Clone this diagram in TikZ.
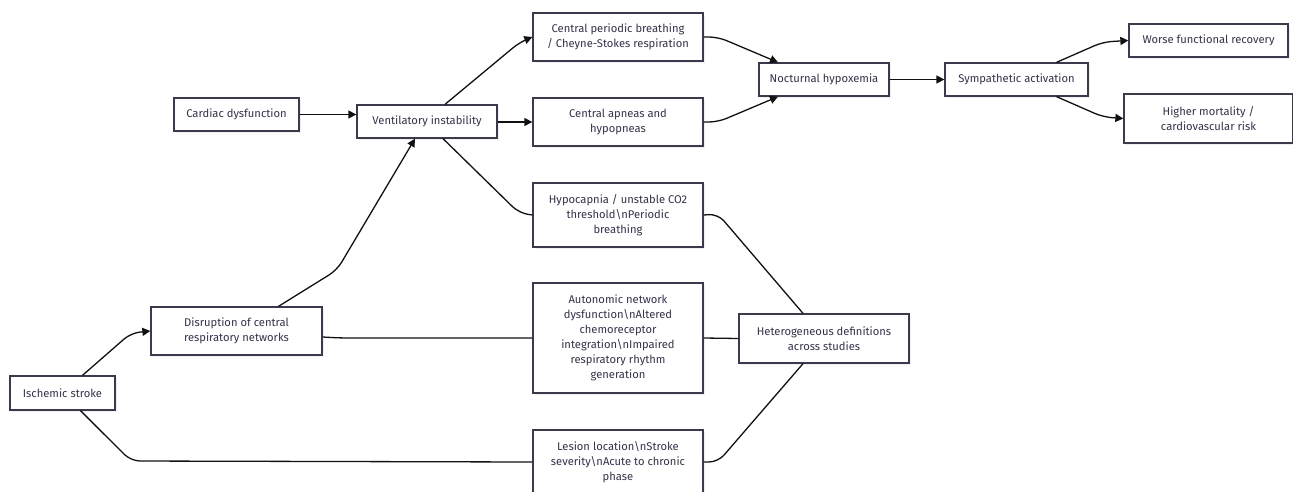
\documentclass[tikz,border=0pt]{standalone}
\usepackage{fontspec}
\setmainfont{Fira Sans}
\usetikzlibrary{arrows.meta,shadows}
\definecolor{boxc}{HTML}{3A3A4C}
\definecolor{txtc}{HTML}{33334A}
\definecolor{linec}{HTML}{111111}
\begin{document}
\begin{tikzpicture}[x=1pt,y=-1pt,
  box/.style={draw=boxc, line width=1.3pt, fill=white, align=center, text=txtc,
    font=\fontsize{11.2}{15}\selectfont, inner sep=0pt,
    drop shadow={shadow xshift=2pt, shadow yshift=-2pt, fill=black!12}},
  link/.style={draw=linec, line width=1.3pt, rounded corners=9pt},
  arr/.style={link, -{Triangle[length=8pt,width=8pt]}}]
\useasboundingbox (0,0) rectangle (1293,492);

\node[box, minimum width=125, minimum height=33] (cd) at (236.5,114.5) {Cardiac dysfunction};
\node[box, minimum width=140, minimum height=33] (vi) at (427,121.5) {Ventilatory instability};
\node[box, minimum width=170, minimum height=48] (cpb) at (618,37) {Central periodic breathing\\/ Cheyne-Stokes respiration};
\node[box, minimum width=170, minimum height=48] (cap) at (618,122) {Central apneas and\\hypopneas};
\node[box, minimum width=170, minimum height=64] (hyp) at (618,215) {Hypocapnia / unstable CO2\\threshold\textbackslash nPeriodic\\breathing};
\node[box, minimum width=170, minimum height=110] (aut) at (618,338) {Autonomic network\\dysfunction\textbackslash nAltered\\chemoreceptor\\integration\textbackslash nImpaired\\respiratory rhythm\\generation};
\node[box, minimum width=170, minimum height=64] (les) at (618,462) {Lesion location\textbackslash nStroke\\severity\textbackslash nAcute to chronic\\phase};
\node[box, minimum width=170, minimum height=49] (het) at (824,338.5) {Heterogeneous definitions\\across studies};
\node[box, minimum width=130, minimum height=33] (noc) at (824,79.5) {Nocturnal hypoxemia};
\node[box, minimum width=143, minimum height=33] (sym) at (1016.5,79.5) {Sympathetic activation};
\node[box, minimum width=159, minimum height=33] (wfr) at (1208.5,40.5) {Worse functional recovery};
\node[box, minimum width=169, minimum height=49] (hmr) at (1208.5,118.5) {Higher mortality /\\cardiovascular risk};
\node[box, minimum width=171, minimum height=48] (dis) at (236.5,331) {Disruption of central\\respiratory networks};
\node[box, minimum width=105, minimum height=34] (isc) at (62.5,393) {Ischemic stroke};

\coordinate (c1) at (520,42);
\coordinate (c2) at (519,213);
\coordinate (c3) at (337,270);
\coordinate (c4) at (131,333);
\coordinate (c5) at (131,461);
\coordinate (c6) at (718,37);
\coordinate (c7) at (718,122);
\coordinate (c8) at (1103,42);
\coordinate (c9) at (1103,117);
\coordinate (c10) at (718,214);
\coordinate (c11) at (718,462);
\coordinate (c12) at (340,338);

\draw[arr, rounded corners=0pt] (cd.east) -- (cd.east -| vi.west);
\draw[arr] ([xshift=18pt]vi.north) -- (c1) -- (cpb.west);
\draw[arr] (vi.east |- cap.west) -- (cap.west);
\draw[link] ([xshift=16pt]vi.south) -- (c2) -- (hyp.west);
\draw[arr] ([xshift=42pt]dis.north) -- (c3) -- ([xshift=-12pt]vi.south);
\draw[arr] ([xshift=20pt]isc.north) -- (c4) -- (dis.west);
\draw[link] ([xshift=18pt]isc.south) -- (c5) -- (les.west);
\draw[link] ([yshift=-6pt]dis.east) -- (c12) -- (aut.west);
\draw[arr] (cpb.east) -- (c6) -- ([xshift=-46pt]noc.north);
\draw[arr] (cap.east) -- (c7) -- ([xshift=-46pt]noc.south);
\draw[arr] (noc.east) -- (sym.west);
\draw[arr] ([xshift=40pt]sym.north) -- (c8) -- (wfr.west);
\draw[arr] ([xshift=40pt]sym.south) -- (c9) -- (hmr.west);
\draw[link] (hyp.east) -- (c10) -- ([xshift=-21pt]het.north);
\draw[link] (aut.east) -- (het.west);
\draw[link] (les.east) -- (c11) -- ([xshift=-21pt]het.south);
\end{tikzpicture}
\end{document}
